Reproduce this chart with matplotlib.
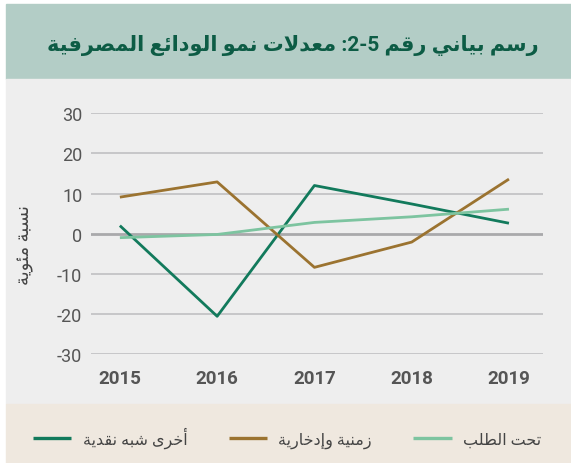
import re
import matplotlib
matplotlib.use("Agg")
from matplotlib import pyplot as plt
from matplotlib.patches import Rectangle

# Data (percent growth)
YEARS = [2015, 2016, 2017, 2018, 2019]
OTHER_QUASI = [2.0, -20.6, 12.0, 7.4, 2.6]      # أخرى شبه نقدية
TIME_SAVINGS = [9.1, 12.9, -8.4, -2.1, 13.6]    # زمنية وإدخارية
DEMAND = [-1.0, -0.2, 2.8, 4.2, 6.1]            # تحت الطلب
Y_TICKS = [-30, -20, -10, 0, 10, 20, 30]

TITLE = "رسم بياني رقم 2-5: معدلات نمو الودائع المصرفية"
Y_LABEL = "نسبة مئوية"
LABELS = ["أخرى شبه نقدية", "زمنية وإدخارية", "تحت الطلب"]
COLORS = ["#127a5c", "#9b7330", "#7dc4a0"]

# Arabic presentation forms: isolated, final, initial, medial
FORMS = {
    'ا': ('\uFE8D', '\uFE8E', None, None),
    'أ': ('\uFE83', '\uFE84', None, None),
    'إ': ('\uFE87', '\uFE88', None, None),
    'ب': ('\uFE8F', '\uFE90', '\uFE91', '\uFE92'),
    'ة': ('\uFE93', '\uFE94', None, None),
    'ت': ('\uFE95', '\uFE96', '\uFE97', '\uFE98'),
    'ح': ('\uFEA1', '\uFEA2', '\uFEA3', '\uFEA4'),
    'خ': ('\uFEA5', '\uFEA6', '\uFEA7', '\uFEA8'),
    'د': ('\uFEA9', '\uFEAA', None, None),
    'ر': ('\uFEAD', '\uFEAE', None, None),
    'ز': ('\uFEAF', '\uFEB0', None, None),
    'س': ('\uFEB1', '\uFEB2', '\uFEB3', '\uFEB4'),
    'ش': ('\uFEB5', '\uFEB6', '\uFEB7', '\uFEB8'),
    'ص': ('\uFEB9', '\uFEBA', '\uFEBB', '\uFEBC'),
    'ط': ('\uFEC1', '\uFEC2', '\uFEC3', '\uFEC4'),
    'ع': ('\uFEC9', '\uFECA', '\uFECB', '\uFECC'),
    'ف': ('\uFED1', '\uFED2', '\uFED3', '\uFED4'),
    'ق': ('\uFED5', '\uFED6', '\uFED7', '\uFED8'),
    'ل': ('\uFEDD', '\uFEDE', '\uFEDF', '\uFEE0'),
    'م': ('\uFEE1', '\uFEE2', '\uFEE3', '\uFEE4'),
    'ن': ('\uFEE5', '\uFEE6', '\uFEE7', '\uFEE8'),
    'ه': ('\uFEE9', '\uFEEA', '\uFEEB', '\uFEEC'),
    'و': ('\uFEED', '\uFEEE', None, None),
    'ى': ('\uFEEF', '\uFEF0', None, None),
    'ي': ('\uFEF1', '\uFEF2', '\uFEF3', '\uFEF4'),
    'ئ': ('\uFE89', '\uFE8A', '\uFE8B', '\uFE8C'),
}
LAM_ALEF = {'ا': ('\uFEFB', '\uFEFC'), 'أ': ('\uFEF7', '\uFEF8'), 'إ': ('\uFEF9', '\uFEFA')}


def ar(text):
    """Shape Arabic letters and return them in visual (left to right) order."""
    tokens = []
    i = 0
    while i < len(text):
        c = text[i]
        if c == 'ل' and i + 1 < len(text) and text[i + 1] in LAM_ALEF:
            iso, fin = LAM_ALEF[text[i + 1]]
            tokens.append((iso, fin, None, None))
            i += 2
            continue
        tokens.append(FORMS.get(c, c))
        i += 1

    out = []
    for k, t in enumerate(tokens):
        if isinstance(t, str):
            out.append(t)
            continue
        prev = tokens[k - 1] if k > 0 else None
        nxt = tokens[k + 1] if k + 1 < len(tokens) else None
        join_prev = isinstance(prev, tuple) and prev[2] is not None
        join_next = t[2] is not None and isinstance(nxt, tuple)
        if join_prev and join_next:
            out.append(t[3])
        elif join_prev:
            out.append(t[1])
        elif join_next:
            out.append(t[2])
        else:
            out.append(t[0])
    visual = "".join(out)[::-1]
    # numbers stay left to right
    return re.sub(r"[0-9][0-9\-.]*[0-9]|[0-9]", lambda m: m.group(0)[::-1], visual)


plt.rcParams['font.family'] = ['Roboto', 'DejaVu Sans']

fig = plt.figure(figsize=(5.71, 4.64), dpi=100, facecolor="white")

# background bands
fig.patches.append(Rectangle((6 / 571, 1 - 80 / 464), 1, 75 / 464,
                             transform=fig.transFigure, color="#b3cdc6", zorder=-5))
fig.patches.append(Rectangle((6 / 571, 59 / 464), 1, 325 / 464,
                             transform=fig.transFigure, color="#eeeeee", zorder=-5))
fig.patches.append(Rectangle((6 / 571, 0), 1, 59 / 464,
                             transform=fig.transFigure, color="#efe8df", zorder=-5))

ax = fig.add_axes([90.7 / 571, 109 / 464, 452.6 / 571, 240.7 / 464])
ax.set_facecolor("none")

for v in Y_TICKS:
    if v == 0:
        ax.axhline(v, color="#a9a9ab", lw=2.0, zorder=1)
    else:
        ax.axhline(v, color="#bcbcbe", lw=1.1, zorder=1)

series = [OTHER_QUASI, TIME_SAVINGS, DEMAND]
handles = []
for vals, color, label in zip(series, COLORS, LABELS):
    h, = ax.plot(YEARS, vals, color=color, lw=2.0, zorder=3,
                 solid_capstyle="butt", label=ar(label), clip_on=False)
    handles.append(h)

ax.set_xlim(YEARS[0] - 0.30, YEARS[-1] + 0.353)
ax.set_ylim(Y_TICKS[0], Y_TICKS[-1])
ax.set_yticks(Y_TICKS)
ax.set_yticklabels([str(v) for v in Y_TICKS])
ax.set_xticks(YEARS)
ax.set_xticklabels([str(y) for y in YEARS], fontweight="bold")
ax.tick_params(axis="y", length=0, pad=6, labelsize=13, labelcolor="#555555")
ax.tick_params(axis="x", length=0, pad=11, labelsize=13.5, labelcolor="#555555")
for s in ax.spines.values():
    s.set_visible(False)

fig.text(0.512, 1 - 45 / 464, ar(TITLE), ha="center", va="center",
         fontsize=15, fontweight="bold", color="#0d5c45")
fig.text(25 / 571, 1 - 245 / 464, ar(Y_LABEL), rotation=90, ha="center",
         va="center", fontsize=13, color="#444444")

fig.legend(handles=handles, loc="center left", ncol=3,
           bbox_to_anchor=(33 / 571, 26 / 464), bbox_transform=fig.transFigure,
           frameon=False, fontsize=11.5, handlelength=2.4, handletextpad=0.7,
           columnspacing=2.6, borderpad=0, borderaxespad=0,
           labelcolor="#444444")
for line in fig.legends[0].get_lines():
    line.set_linewidth(2.4)

fig.savefig("out.png", dpi=100, facecolor=fig.get_facecolor())
